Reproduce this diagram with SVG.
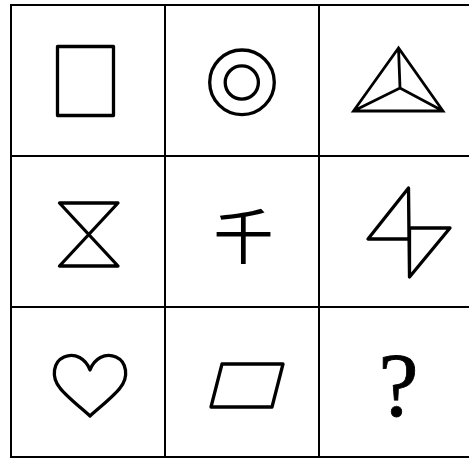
<svg xmlns="http://www.w3.org/2000/svg" width="469" height="459" viewBox="0 0 469 459">
<style>
.grid{fill:none;stroke:#000;stroke-width:2}
.shape{fill:none;stroke:#000;stroke-width:3.3;stroke-linejoin:round}
.thin{fill:none;stroke:#000;stroke-width:2.8;stroke-linejoin:miter}
</style>
<rect width="469" height="459" fill="#fff"/>
<g id="grid">
<rect class="grid" x="11" y="5" width="462" height="452"/>
<line class="grid" x1="165" y1="5" x2="165" y2="457"/>
<line class="grid" x1="319" y1="5" x2="319" y2="457"/>
<line class="grid" x1="11" y1="156" x2="473" y2="156"/>
<line class="grid" x1="11" y1="307" x2="473" y2="307"/>
</g>
<g id="cell-rectangle">
<rect class="shape" x="57.5" y="46.5" width="56" height="69"/>
</g>
<g id="cell-circles">
<circle class="shape" cx="242" cy="82.3" r="32.3"/>
<circle class="shape" cx="241.8" cy="82.5" r="16.6"/>
</g>
<g id="cell-triangle">
<path class="thin" d="M398.5,48 L353.5,111 L443,111 Z M398.5,48 L400,88 M353.5,111 L400,88 L443,111"/>
</g>
<g id="cell-hourglass">
<path class="shape" d="M59.5,203 L118,203 L59.5,266 L118,266 Z" stroke-linejoin="miter"/>
</g>
<g id="cell-char">
<text x="243.5" y="259" font-family="'Noto Sans CJK SC', sans-serif" font-size="60" text-anchor="middle">千</text>
</g>
<g id="cell-bolt">
<path class="shape" d="M408.5,188 L368,239 L409,239 Z M409.5,228 L450,228 L409.5,277 Z M408.5,188 L409.5,277" stroke-linejoin="miter"/>
</g>
<g id="cell-heart">
<path class="shape" d="M90,416 C80,407 66,396 60,388 C51,377 53,362 64,357 C75,352 86,359 90,370 C94,359 105,352 116,357 C127,362 129,377 120,388 C114,396 100,407 90,416 Z"/>
</g>
<g id="cell-parallelogram">
<path class="shape" d="M222,364 L283,364 L272,407 L211,407 Z" stroke-linejoin="miter"/>
</g>
<g id="cell-question">
<text x="398.5" y="416" font-family="'Liberation Serif', serif" font-size="90" text-anchor="middle" stroke="#000" stroke-width="0.8">?</text>
</g>
</svg>
